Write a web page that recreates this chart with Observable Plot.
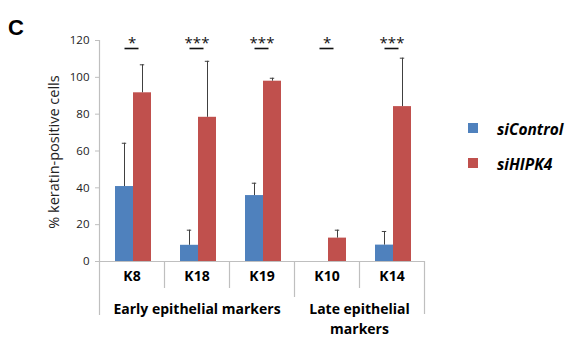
<!DOCTYPE html>
<html>
<head>
<meta charset="utf-8">
<script src="https://cdn.jsdelivr.net/npm/d3@7"></script>
<script src="https://cdn.jsdelivr.net/npm/@observablehq/plot@0.6"></script>
<style>
  html, body { margin: 0; padding: 0; background: #fff; }
  #wrap { position: relative; width: 571px; height: 345px; overflow: hidden; font-family: "Open Sans", sans-serif; }
  #panel { position: absolute; left: 8px; top: 17px; font-family: "Liberation Sans", Arial, sans-serif; font-weight: bold; font-size: 22px; color: #000; line-height: 1; }
  .item { position: absolute; left: 468px; display: flex; align-items: center; height: 30px; }
  .sw { width: 10px; height: 10px; margin-right: 19px; }
  .lab { font-weight: bold; font-style: italic; font-size: 15.5px; color: #000; position: relative; top: 1px; }
</style>
</head>
<body>
<div id="wrap">
  <div id="panel">C</div>
</div>
<script>
// ---- data ----
const cats = ["K8", "K18", "K19", "K10", "K14"];
const series = ["siControl", "siHIPK4"];
const siControl = [40.7, 8.8, 35.8, 0, 8.9];
const siControlErr = [23.5, 8.2, 6.7, null, 7.4];
const siHIPK4 = [91.6, 78.3, 97.9, 12.7, 84.1];
const siHIPK4Err = [15.2, 30.4, 1.6, 4.3, 26.3];
const stars = ["*", "***", "***", "*", "***"];
const groups = ["Early epithelial markers", "Late epithelial\nmarkers"];
const groupOf = [0, 0, 0, 1, 1];
const yTicks = [0, 20, 40, 60, 80, 100, 120];
const yLabel = "% keratin-positive cells";
const colors = ["#4F81BD", "#C0504D"];

// ---- derived tables ----
const values = [siControl, siHIPK4];
const errs = [siControlErr, siHIPK4Err];
const rows = [];
cats.forEach((c, i) => series.forEach((s, j) => {
  rows.push({cat: c, series: s, value: values[j][i], upper: errs[j][i] == null ? null : values[j][i] + errs[j][i]});
}));
const errRows = rows.filter(d => d.upper != null);
const starRows = cats.map((c, i) => ({cat: c, stars: stars[i]}));

// layout
const W = 571, H = 345, mL = 99, mR = 147, mT = 40, mB = 84;
const catW = (W - mL - mR) / cats.length;
const yMax = d3.max(yTicks);

// separators (left edge of categories)
const innerSeps = cats.filter((c, i) => i > 0 && groupOf[i] === groupOf[i - 1]).map(c => ({cat: c}));
const groupSeps = cats.filter((c, i) => i > 0 && groupOf[i] !== groupOf[i - 1]).map(c => ({cat: c}));
const firstSep = [{cat: cats[0]}];
const lastSep = [{cat: cats[cats.length - 1]}];

// group label marks, centered on their categories
const groupMarks = groups.map((g, k) => {
  const idx = cats.map((c, i) => i).filter(i => groupOf[i] === k);
  const center = (idx[0] + idx[idx.length - 1]) / 2;
  const base = Math.floor(center);
  return Plot.text([{cat: cats[base], label: g}], {
    fx: "cat", text: "label", dx: (center - base) * catW,
    frameAnchor: "bottom", dy: 38, lineAnchor: "top",
    fontSize: 14, fontWeight: "bold", fill: "#000", lineHeight: 1.45
  });
});

const axisColor = "#bfbfbf";
const errColor = "#404040";
const sepStyle = {fx: "cat", x: null, stroke: axisColor, strokeWidth: 1.2};

const chart = Plot.plot({
  width: W, height: H,
  marginLeft: mL, marginRight: mR, marginTop: mT, marginBottom: mB,
  style: {fontFamily: "'Open Sans', sans-serif", color: "#000", background: "transparent"},
  fx: {domain: cats, padding: 0, label: null},
  x: {domain: series, paddingInner: 0, paddingOuter: 0.74, align: 0.55, axis: null},
  y: {domain: [0, yMax]},
  color: {domain: series, range: colors},
  marks: [
    // y axis
    Plot.axisY({ticks: yTicks, tickSize: 4, tickPadding: 6, fontSize: 11.5, stroke: axisColor, fill: "#222", label: null}),
    Plot.text([{cat: cats[0]}], {fx: "cat", text: () => yLabel, frameAnchor: "left", textAnchor: "middle", rotate: -90, dx: -51, dy: 1, lineAnchor: "top", fontSize: 14.5, fill: "#222"}),
    // category labels
    Plot.axisFx({anchor: "bottom", tickSize: 0, tickPadding: 10, fontSize: 14, fontWeight: "bold", label: null, fill: "#000"}),
    // baseline
    Plot.ruleY([0], {stroke: axisColor, strokeWidth: 1.2}),
    // separators
    Plot.ruleX(firstSep, {...sepStyle, y1: yMax, y2: 0, dx: -catW / 2, insetBottom: -54}),
    Plot.ruleX(innerSeps, {...sepStyle, y1: 0, y2: 0, dx: -catW / 2, insetBottom: -27}),
    Plot.ruleX(groupSeps, {...sepStyle, y1: 0, y2: 0, dx: -catW / 2, insetBottom: -36}),
    Plot.ruleX(lastSep, {...sepStyle, y1: 0, y2: 0, dx: catW / 2, insetBottom: -53}),
    // bars
    Plot.barY(rows, {fx: "cat", x: "series", y: "value", fill: "series"}),
    // error bars
    Plot.ruleX(errRows, {fx: "cat", x: "series", y1: "value", y2: "upper", stroke: errColor, strokeWidth: 1}),
    Plot.tickY(errRows, {fx: "cat", x: "series", y: "upper", stroke: errColor, strokeWidth: 1, insetLeft: 6.8, insetRight: 6.8}),
    // significance stars
    Plot.text(starRows, {fx: "cat", text: "stars", frameAnchor: "top", dy: 7, fontSize: 15, fill: "#111", lineAnchor: "bottom"}),
    Plot.tickY(starRows, {fx: "cat", y: () => yMax, dy: 8, stroke: "#111", strokeWidth: 1.6, insetLeft: (catW - 14) / 2, insetRight: (catW - 14) / 2}),
    // group labels
    ...groupMarks
  ]
});
const wrap = document.getElementById("wrap");
wrap.prepend(chart);
chart.style.position = "absolute";
chart.style.left = "0px";
chart.style.top = "0px";

// legend
const legendCenters = [128, 163];
series.forEach((s, j) => {
  const item = document.createElement("div");
  item.className = "item";
  item.style.top = (legendCenters[j] - 15) + "px";
  const sw = document.createElement("div");
  sw.className = "sw";
  sw.style.background = colors[j];
  const lab = document.createElement("span");
  lab.className = "lab";
  lab.textContent = s;
  item.appendChild(sw);
  item.appendChild(lab);
  wrap.appendChild(item);
});
</script>
</body>
</html>
